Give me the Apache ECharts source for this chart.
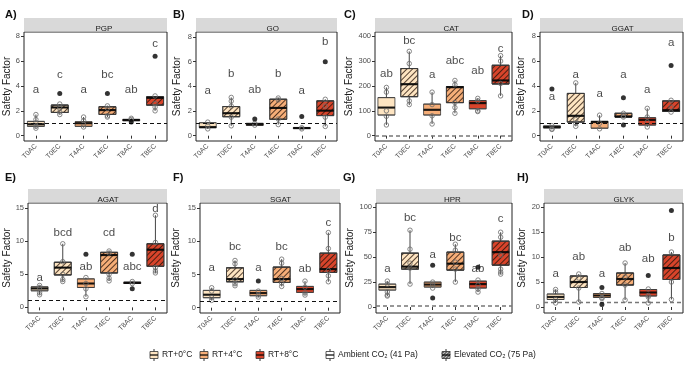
<!DOCTYPE html>
<html>
<head>
<meta charset="utf-8">
<script src="https://cdn.jsdelivr.net/npm/echarts@6/dist/echarts.min.js"></script>
<style>
html,body{margin:0;padding:0;background:#fff}
#main{width:685px;height:365px}
</style>
</head>
<body>
<div id="main"></div>
<script>
// treatments on every x axis
var cats = ['T0AC', 'T0EC', 'T4AC', 'T4EC', 'T8AC', 'T8EC'];
var panelNames = ['PGP', 'GO', 'CAT', 'GGAT', 'AGAT', 'SGAT', 'HPR', 'GLYK'];
var panelTags = ['A)', 'B)', 'C)', 'D)', 'E)', 'F)', 'G)', 'H)'];

// box stats per panel: [whisker low, q1, median, q3, whisker high] per treatment
var boxStats = [
    [[0.6, 0.75, 0.92, 1.15, 1.7], [1.7, 1.87, 2.27, 2.46, 2.55], [0.65, 0.75, 1.0, 1.12, 1.5], [1.5, 1.71, 2.06, 2.33, 2.4], [1.15, 1.2, 1.27, 1.3, 1.4], [2.0, 2.46, 3.05, 3.13, 3.2]],
    [[0.55, 0.65, 0.7, 1.05, 1.1], [0.8, 1.54, 1.82, 2.36, 3.1], [0.8, 0.84, 0.92, 1.0, 1.0], [0.9, 1.33, 2.25, 2.95, 3.05], [0.55, 0.58, 0.62, 0.65, 0.65], [0.75, 1.63, 2.03, 2.82, 2.95]],
    [[43, 83, 113, 153, 194], [123, 157, 207, 270, 339], [47, 83, 104, 127, 175], [90, 133, 195, 197, 222], [97, 108, 131, 141, 150], [160, 208, 222, 283, 322]],
    [[0.5, 0.62, 0.7, 0.78, 0.8], [0.75, 1.1, 1.6, 3.4, 4.25], [0.55, 0.6, 1.1, 1.15, 1.65], [1.5, 1.5, 1.55, 1.8, 1.8], [0.7, 0.85, 1.27, 1.45, 2.2], [1.9, 1.95, 2.05, 2.8, 2.85]],
    [[1.9, 2.5, 2.85, 3.1, 3.3], [3.9, 4.9, 6.0, 6.8, 9.6], [1.6, 3.0, 3.6, 4.3, 4.5], [4.0, 5.2, 7.9, 8.3, 8.5], [3.5, 3.6, 3.7, 3.8, 3.9], [5.2, 6.2, 8.7, 9.6, 13.9]],
    [[1.1, 1.5, 1.95, 2.6, 3.0], [3.3, 3.9, 4.3, 6.0, 7.1], [1.6, 1.8, 2.2, 2.6, 2.6], [3.2, 3.8, 4.3, 6.1, 7.3], [1.9, 2.3, 2.8, 3.2, 4.0], [3.9, 5.3, 5.8, 8.2, 11.3]],
    [[11, 17, 20, 23, 26], [23, 38, 40.5, 54, 77], [19, 20, 22.5, 25, 25], [25, 37, 43.5, 55, 63], [15, 19, 23, 26, 27], [33, 42, 55, 66, 75]],
    [[0.8, 1.5, 2.0, 2.6, 3.5], [1.0, 3.9, 5.0, 6.2, 6.6], [1.7, 1.9, 2.3, 2.7, 2.7], [1.4, 4.4, 5.6, 6.8, 8.8], [0.8, 2.2, 2.9, 3.5, 3.6], [1.5, 5.5, 7.8, 10.4, 11.0]]
];

// single observations (open circles) per panel and treatment
var obsPoints = [
    [[1.7, 1.3, 1.0, 0.75, 0.6], [2.55, 2.2, 1.9, 1.7], [1.5, 1.2, 0.9, 0.7], [2.4, 2.2, 1.6, 1.5], [1.4, 1.3], [3.2, 2.6, 2.3, 2.0]],
    [[1.1, 0.8, 0.55], [3.1, 2.8, 2.4, 1.5, 0.8], [1.0, 0.85], [3.05, 2.9, 1.35, 0.9], [0.65, 0.55], [2.95, 2.4, 1.5, 0.75]],
    [[194, 175, 100, 78, 43], [339, 290, 140, 125], [175, 125, 80, 47], [222, 205, 133, 113, 90], [150, 140, 100, 97], [322, 300, 210, 160]],
    [[0.8, 0.55, 0.5], [4.25, 1.3, 1.0, 0.75], [1.65, 1.0, 0.55], [1.8, 1.6, 1.5], [2.2, 1.5, 1.1, 0.7], [2.85, 2.3, 1.9]],
    [[3.3, 3.0, 2.2, 1.9], [9.6, 6.9, 5.0, 4.2, 3.9], [4.5, 3.6, 2.8, 1.6], [8.5, 8.2, 5.0, 4.4, 4.0], [3.9, 3.6], [13.9, 9.8, 6.0, 5.5, 5.2]],
    [[3.0, 2.5, 1.5, 1.1], [7.1, 6.6, 4.2, 3.6, 3.3], [2.5, 1.9, 1.6], [7.3, 6.7, 4.4, 3.7, 3.2], [4.0, 3.1, 2.2, 1.9], [11.3, 8.9, 5.6, 4.8, 3.9]],
    [[26, 23, 15, 12, 11], [77, 58, 44, 39, 23], [25, 22, 19], [63, 57, 45, 38, 25], [27, 22, 18, 15], [75, 70, 52, 38, 35, 33]],
    [[3.5, 3.0, 1.5, 0.8], [6.6, 5.8, 3.8, 1.0], [2.7, 1.9, 1.7], [8.8, 6.0, 4.4, 1.4], [3.6, 2.3, 2.0, 0.8], [11.0, 5.0, 1.5]]
];

// outliers (filled dots)
var outliers = [
    [[], [3.4], [], [3.4], [1.1], [6.4]],
    [[], [], [1.35], [], [1.55], [6.0]],
    [[], [], [], [], [], []],
    [[3.75], [], [], [3.05, 0.85], [], [5.65]],
    [[], [], [8.0], [], [8.0, 2.8], []],
    [[], [], [4.0], [], [], []],
    [[], [], [42, 9], [], [40], []],
    [[], [], [3.9, 0.5], [], [6.3], [19.3]]
];

// significance letters and their heights
var letters = [
    ['a', 'c', 'a', 'bc', 'ab', 'c'],
    ['a', 'b', 'ab', 'b', 'a', 'b'],
    ['ab', 'bc', 'a', 'abc', 'ab', 'c'],
    ['a', 'a', 'a', 'a', 'a', 'a'],
    ['a', 'bcd', 'ab', 'cd', 'abc', 'd'],
    ['a', 'bc', 'a', 'bc', 'ab', 'c'],
    ['a', 'bc', 'a', 'bc', 'ab', 'c'],
    ['a', 'ab', 'a', 'ab', 'ab', 'b']
];
var letterY = [
    [3.66, 4.9, 3.66, 4.9, 3.7, 7.4],
    [3.6, 5.0, 3.7, 5.0, 3.6, 7.6],
    [248, 380, 245, 302, 261, 348],
    [3.15, 4.9, 3.4, 4.9, 3.7, 7.5],
    [4.4, 11.2, 6.1, 11.2, 6.1, 14.8],
    [6.0, 9.1, 6.0, 9.1, 5.9, 12.75],
    [38.5, 89, 52.5, 69, 38.5, 88],
    [6.7, 10.0, 6.7, 11.9, 9.6, 13.9]
];

// y axes
var yRange = [[-0.43, 8.35], [-0.43, 8.4], [-21.5, 417], [-0.43, 8.35], [-0.85, 15.75], [-0.8, 15.75], [-6, 104.3], [-1.2, 20.8]];
var yTicks = [[0, 2, 4, 6, 8], [0, 2, 4, 6, 8], [0, 100, 200, 300, 400], [0, 2, 4, 6, 8], [0, 5, 10, 15], [0, 5, 10, 15], [0, 25, 50, 75, 100], [0, 5, 10, 15, 20]];
var refLine = 1;

// layout of the panels [left, top, width, height]
var panelBox = [[24, 32, 143, 109], [196, 32, 141, 109], [375, 32, 137, 109], [540, 32, 143, 109],
                [28, 203, 139, 110], [200, 203, 140, 110], [376, 203, 136, 110], [544, 203, 139, 110]];
var nameGaps = [12, 14, 15, 14, 16, 19, 19, 17];
var tagX = [5, 173, 344, 522, 5, 173, 343, 517];
var dashStyle = [['#111', 1], ['#111', 1], ['#777', 1.6], ['#111', 1], ['#111', 1], ['#111', 1], ['#777', 1.6], ['#777', 1.3]];

var fills = ['#FDE4C1', '#FDE4C1', '#F6AE78', '#F6AE78', '#D8442B', '#D8442B'];
var hatch = {
    symbol: 'rect', symbolSize: 1,
    dashArrayX: [1, 0], dashArrayY: [0.9, 2.9],
    rotation: -Math.PI / 4,
    color: 'rgba(40,20,10,0.8)'
};

var grids = [], xAxes = [], yAxes = [], series = [], graphics = [];

panelNames.forEach(function (pname, i) {
    var pb = panelBox[i];
    grids.push({left: pb[0], top: pb[1], width: pb[2], height: pb[3], show: true,
        borderColor: '#222', borderWidth: 1, backgroundColor: '#fff', containLabel: false});
    xAxes.push({
        type: 'category', gridIndex: i, data: cats,
        axisLine: {show: false},
        axisTick: {show: true, alignWithLabel: true, length: 3, lineStyle: {color: '#333'}},
        axisLabel: {rotate: 45, fontSize: 7, color: '#4d4d4d', margin: 4, fontFamily: 'Liberation Sans'}
    });
    yAxes.push({
        type: 'value', gridIndex: i, min: yRange[i][0], max: yRange[i][1],
        name: 'Safety Factor', nameLocation: 'middle', nameGap: nameGaps[i],
        nameTextStyle: {fontSize: 10, color: '#1a1a1a', fontFamily: 'Liberation Sans'},
        axisLine: {show: false}, splitLine: {show: false},
        axisTick: {show: true, length: 3, customValues: yTicks[i], lineStyle: {color: '#333'}},
        axisLabel: {fontSize: 7.5, color: '#4d4d4d', margin: 4, customValues: yTicks[i], fontFamily: 'Liberation Sans'}
    });

    var stats = boxStats[i];
    // whiskers
    series.push({
        type: 'custom', xAxisIndex: i, yAxisIndex: i, z: 1, silent: true,
        data: stats.map(function (s, j) { return [j, s[0], s[1], s[3], s[4]]; }),
        encode: {x: 0, y: [1, 2, 3, 4]},
        renderItem: function (params, api) {
            var x = api.value(0);
            var a = api.coord([x, api.value(1)]), b = api.coord([x, api.value(2)]);
            var c = api.coord([x, api.value(3)]), d = api.coord([x, api.value(4)]);
            var st = {stroke: '#444', lineWidth: 1};
            return {type: 'group', children: [
                {type: 'line', shape: {x1: a[0], y1: a[1], x2: b[0], y2: b[1]}, style: st},
                {type: 'line', shape: {x1: c[0], y1: c[1], x2: d[0], y2: d[1]}, style: st}
            ]};
        }
    });
    // boxes
    series.push({
        type: 'boxplot', xAxisIndex: i, yAxisIndex: i, z: 2, silent: true,
        boxWidth: [17, 17],
        data: stats.map(function (s, j) {
            var st = {color: fills[j], borderColor: '#3a3a3a', borderWidth: 0.8};
            if (j % 2 === 1) st.decal = hatch;
            return {value: [s[1], s[1], s[2], s[3], s[3]], itemStyle: st};
        })
    });
    // medians
    series.push({
        type: 'scatter', xAxisIndex: i, yAxisIndex: i, z: 3, silent: true,
        symbol: 'rect', symbolSize: [17, 2.2],
        itemStyle: {color: '#000'},
        data: stats.map(function (s, j) { return [j, s[2]]; })
    });
    // observations
    var pts = [];
    obsPoints[i].forEach(function (arr, j) { arr.forEach(function (v) { pts.push([j, v]); }); });
    series.push({
        type: 'scatter', xAxisIndex: i, yAxisIndex: i, z: 4, silent: true,
        symbol: 'circle', symbolSize: 4.5,
        itemStyle: {color: 'rgba(255,255,255,0)', borderColor: '#6b6b6b', borderWidth: 1},
        data: pts,
        markLine: {
            silent: true, symbol: ['none', 'none'], label: {show: false},
            lineStyle: {type: [4, 3], color: dashStyle[i][0], width: dashStyle[i][1]},
            data: [{yAxis: refLine}]
        }
    });
    var outs = [];
    outliers[i].forEach(function (arr, j) { arr.forEach(function (v) { outs.push([j, v]); }); });
    series.push({
        type: 'scatter', xAxisIndex: i, yAxisIndex: i, z: 5, silent: true,
        symbol: 'circle', symbolSize: 5, itemStyle: {color: '#000'},
        data: outs
    });
    // letters
    series.push({
        type: 'scatter', xAxisIndex: i, yAxisIndex: i, z: 6, silent: true,
        symbolSize: 1, itemStyle: {color: 'rgba(0,0,0,0)'},
        label: {show: true, position: 'inside', formatter: '{b}', fontSize: 11.5, color: '#1a1a1a', fontFamily: 'Liberation Sans'},
        data: letters[i].map(function (t, j) { return {name: t, value: [j, letterY[i][j]]}; })
    });

    // strip header and panel tag
    graphics.push({type: 'rect', left: pb[0], top: pb[1] - 14, shape: {width: pb[2], height: 13.5},
        style: {fill: '#d9d9d9'}, silent: true});
    graphics.push({type: 'text', left: pb[0] + pb[2] / 2, top: pb[1] - 7.3,
        style: {text: pname, fontSize: 8, fill: '#1a1a1a', align: 'center', verticalAlign: 'middle', fontFamily: 'Liberation Sans'}});
    graphics.push({type: 'text', left: tagX[i], top: i < 4 ? 9 : 172,
        style: {text: panelTags[i], fontSize: 11, fontWeight: 'bold', fill: '#111', fontFamily: 'Liberation Sans'}});
});

// legend drawn as small box glyphs
function legendIcon(x, fill, hatched) {
    var y = 355;
    var items = [
        {type: 'line', shape: {x1: x + 4, y1: y - 6, x2: x + 4, y2: y + 6}, style: {stroke: '#333', lineWidth: 1}},
        {type: 'rect', shape: {x: x, y: y - 3.5, width: 8, height: 7}, style: {fill: fill, stroke: '#333', lineWidth: 0.8}}
    ];
    if (hatched) {
        [[0, 2, 2, 0], [0, 5, 5, 0], [1, 7, 8, 0], [4, 7, 8, 3]].forEach(function (l) {
            items.push({type: 'line', shape: {x1: x + l[0], y1: y - 3.5 + l[1], x2: x + l[2], y2: y - 3.5 + l[3]}, style: {stroke: '#222', lineWidth: 1}});
        });
    }
    items.push({type: 'line', shape: {x1: x, y1: y, x2: x + 8, y2: y}, style: {stroke: '#000', lineWidth: 1.2}});
    return items;
}
var legendLabels = ['RT+0°C', 'RT+4°C', 'RT+8°C', 'Ambient CO₂ (41 Pa)', 'Elevated CO₂ (75 Pa)'];
var legendX = [150, 200, 256, 326, 442];
var legendFill = ['#FDE4C1', '#F6AE78', '#D8442B', '#fff', '#bdbdbd'];
legendLabels.forEach(function (t, k) {
    legendIcon(legendX[k], legendFill[k], k === 4).forEach(function (g) { g.silent = true; graphics.push(g); });
    graphics.push({type: 'text', left: legendX[k] + 12, top: 350,
        style: {text: t, fontSize: 8.5, fill: '#1a1a1a', fontFamily: 'Liberation Sans'}});
});

var chart = echarts.init(document.getElementById('main'));
chart.setOption({
    animation: false,
    backgroundColor: '#fff',
    grid: grids, xAxis: xAxes, yAxis: yAxes,
    series: series,
    graphic: graphics
});
</script>
</body>
</html>
